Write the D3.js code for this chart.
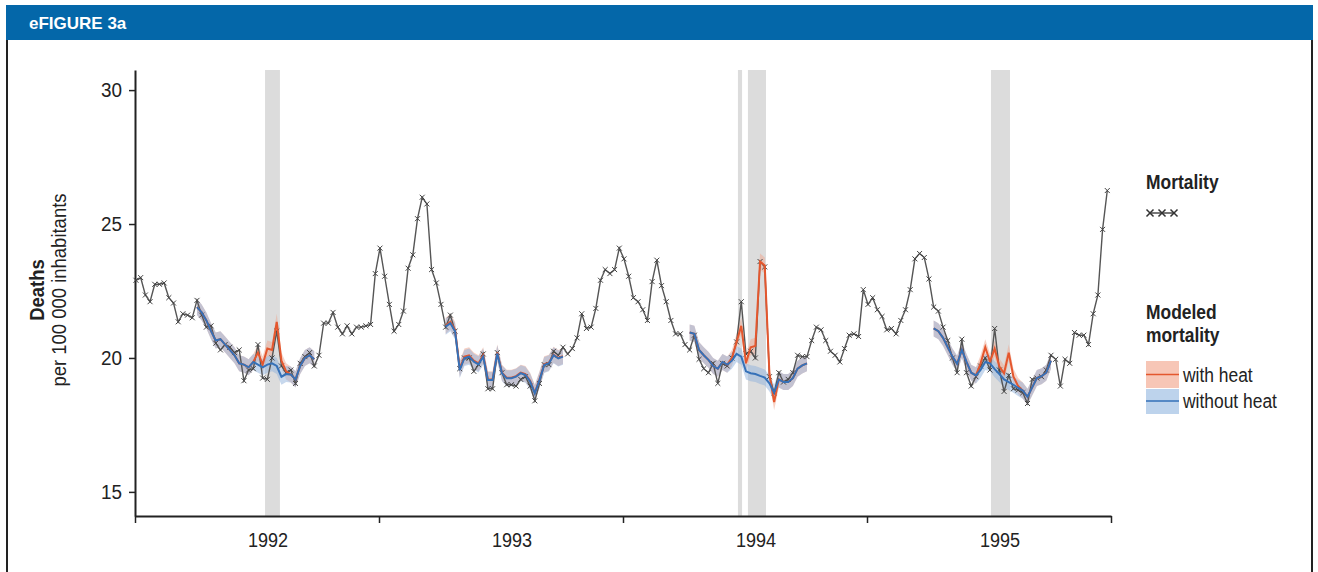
<!DOCTYPE html>
<html>
<head>
<meta charset="utf-8">
<script src="https://cdn.jsdelivr.net/npm/d3@7"></script>
<style>
  body { margin: 0; background: #fff; }
  text { font-family: "Liberation Sans", Arial, sans-serif; fill: #222; }
</style>
</head>
<body>
<div id="chart"></div>
<script>
// Year ticks and labels
const years = [1992, 1993, 1994, 1995];
const yearBounds = [1992, 1993, 1994, 1995, 1996];
const yTicks = [15, 20, 25, 30];

// Weekly mortality, deaths per 100 000 inhabitants, week 0 = first week of 1992
const mortality = [
  22.9, 23.0, 22.35, 22.1, 22.75, 22.75, 22.8, 22.25, 22.05, 21.35,
  21.65, 21.6, 21.5, 22.15, 21.6, 21.15, 21.2, 20.55, 20.3, 20.5,
  20.4, 20.2, 20.3, 19.15, 19.55, 19.6, 20.5, 19.25, 19.2, 20.0,
  21.0, 19.7, 19.45, 19.55, 19.05, 19.8, 20.05, 20.2, 19.7, 20.1,
  21.3, 21.3, 21.7, 21.15, 20.9, 21.2, 20.9, 21.15, 21.15, 21.2,
  21.25, 23.15, 24.1, 23.05, 22.0, 21.0, 21.25, 21.75, 23.35, 23.85,
  25.2, 26.0, 25.75, 23.3, 22.8, 22.0, 21.15, 21.6, 21.0, 19.6,
  20.0, 20.0, 19.5, 19.75, 20.15, 18.85, 18.85, 20.2, 19.45, 19.0,
  19.0, 18.95, 19.2, 19.3, 18.95, 18.4, 19.05, 19.75, 19.75, 20.25,
  20.1, 20.4, 20.15, 20.35, 20.75, 21.65, 21.1, 21.15, 21.85, 22.9,
  23.3, 23.15, 23.3, 24.1, 23.7, 23.05, 22.25, 22.1, 21.8, 21.4,
  22.85, 23.65, 22.7, 22.1, 21.4, 20.9, 20.9, 20.5, 20.3, 20.85,
  19.95, 19.6, 19.45, 19.8, 19.05, 19.8, 19.7, 20.0, 20.6, 22.1,
  20.15, 20.25, 20.0, 23.6, 23.4, 19.3, 18.7, 19.45, 19.1, 19.2,
  19.45, 20.1, 20.05, 20.05, 20.65, 21.15, 21.05, 20.65, 20.25, 20.1,
  19.85, 20.35, 20.85, 20.9, 20.8, 22.55, 22.0, 22.25, 21.8, 21.55,
  21.05, 21.1, 20.9, 21.4, 21.8, 22.55, 23.7, 23.9, 23.75, 22.95,
  21.9, 21.75, 21.15, 20.65, 20.0, 19.45, 20.7, 19.45, 18.95, 19.3,
  19.7, 20.0, 19.55, 21.1, 19.55, 18.75, 19.35, 18.85, 18.8, 18.7,
  18.3, 19.2, 19.25, 19.3, 19.55, 20.1, 19.95, 18.95, 19.95, 19.8,
  20.95, 20.85, 20.85, 20.5, 21.65, 22.35, 24.8, 26.25
];

// Modeled mortality, one summer segment per year (first week index of each segment)
const segmentStarts = [13, 66, 118, 170];
const withoutHeat1992 = [21.9, 21.7, 21.4, 21.0, 20.65, 20.7, 20.5, 20.3, 20.1, 19.8, 19.75, 19.65, 19.85,
  19.75, 19.65, 19.75, 19.8, 19.7, 19.3, 19.4, 19.38, 19.2, 19.7, 20.0, 20.1, 19.95];
const withHeat1992 = [21.9, 21.7, 21.4, 21.0, 20.65, 20.7, 20.5, 20.3, 20.1, 19.8, 19.75, 19.65, 19.85,
  20.2, 19.75, 20.35, 20.3, 21.35, 19.9, 19.5, 19.38, 19.2, 19.7, 20.0, 20.1, 19.95];
const withoutHeat1993 = [21.17, 21.3, 21.0, 19.55, 20.0, 20.05, 19.86, 19.76, 20.05, 19.18, 19.18, 20.17, 19.43,
  19.24, 19.24, 19.3, 19.43, 19.37, 19.12, 18.68, 19.18, 19.74, 19.8, 20.1, 19.98, 20.05];
const withHeat1993 = [21.2, 21.35, 21.05, 19.6, 20.05, 20.1, 19.9, 19.8, 20.1, 19.2, 19.2, 20.2, 19.45,
  19.26, 19.26, 19.32, 19.45, 19.4, 19.15, 18.7, 19.2, 19.76, 19.82, 20.12, 20.0, 20.07];
const withoutHeat1994 = [20.95, 20.9, 20.3, 20.1, 19.93, 19.7, 19.6, 19.85, 19.75, 19.9, 20.15, 20.05, 19.5,
  19.43, 19.4, 19.33, 19.27, 19.05, 18.7, 19.2, 19.1, 19.1, 19.25, 19.6, 19.72, 19.8];
const withHeat1994 = [20.95, 20.9, 20.3, 20.1, 19.93, 19.7, 19.6, 19.85, 19.75, 20.0, 20.6, 21.2, 19.8,
  20.4, 20.45, 23.6, 23.45, 19.4, 18.35, 19.2, 19.1, 19.1, 19.25, 19.6, 19.72, 19.8];
const withoutHeat1995 = [21.1, 21.0, 20.75, 20.4, 20.05, 19.78, 20.3, 19.85, 19.45, 19.35, 19.55, 19.85, 19.8,
  19.58, 19.4, 19.2, 19.1, 19.0, 18.88, 18.78, 18.55, 18.9, 19.25, 19.32, 19.45, 19.9];
const withHeat1995 = [21.1, 21.0, 20.75, 20.4, 20.05, 19.78, 20.3, 19.85, 19.45, 19.35, 19.8, 20.4, 19.86,
  20.35, 19.68, 19.43, 20.2, 19.3, 18.95, 18.78, 18.55, 18.9, 19.25, 19.32, 19.45, 19.9];
const ciHalfWidth = [0.3, 0.3, 0.3, 0.3];

// Heat wave periods (decimal years)
const heatPeriods = [
  [1992.533, 1992.594],
  [1994.471, 1994.488],
  [1994.512, 1994.586],
  [1995.508, 1995.586]
];

const width = 1318, height = 572;
const weekToYear = i => 1992.004 + i / 52;

const svg = d3.select("#chart").append("svg")
  .attr("width", width)
  .attr("height", height);

// narrow text: regular font squeezed horizontally (no condensed face installed)
function addText(parent, x0, y0, str, size, sx, bold, anchor) {
  return parent.append("text")
    .attr("transform", `translate(${x0},${y0}) scale(${sx},1)`)
    .attr("text-anchor", anchor || "start")
    .style("font-size", size + "px")
    .style("font-weight", bold ? "bold" : "normal")
    .text(str);
}

// Frame and header
svg.append("rect").attr("x", 6).attr("y", 5).attr("width", 1307).attr("height", 35).attr("fill", "#0467a9");
svg.append("text").attr("x", 29).attr("y", 29)
  .style("font-weight", "bold").style("font-size", "17px").style("fill", "#fff")
  .text("eFIGURE 3a");
svg.append("line").attr("x1", 7).attr("x2", 7).attr("y1", 40).attr("y2", height).attr("stroke", "#222").attr("stroke-width", 2);
svg.append("line").attr("x1", 1312).attr("x2", 1312).attr("y1", 40).attr("y2", height).attr("stroke", "#222").attr("stroke-width", 2);

const x = d3.scaleLinear().domain([1992, 1996]).range([135, 1111]);
const y = d3.scaleLinear().domain([14.1, 30.75]).range([516, 70]);

// Heat wave bars
svg.append("g").selectAll("rect")
  .data(heatPeriods)
  .enter().append("rect")
  .attr("x", d => x(d[0]))
  .attr("width", d => x(d[1]) - x(d[0]))
  .attr("y", y(30.75))
  .attr("height", y(14.1) - y(30.75))
  .attr("fill", "#dcdcdc");

// Axes
const yAxis = svg.append("g").attr("transform", "translate(135,0)")
  .call(d3.axisLeft(y).tickValues(yTicks).tickSize(6).tickSizeOuter(0));
yAxis.selectAll("text")
  .style("font-size", "21px")
  .attr("transform", "scale(0.9,1)")
  .attr("x", -13 / 0.9);

const xAxis = svg.append("g").attr("transform", "translate(0,516)")
  .call(d3.axisBottom(x).tickValues(yearBounds).tickFormat("").tickSize(7).tickSizeOuter(0));
[yAxis, xAxis].forEach(g => {
  g.select(".domain").attr("stroke", "#222").attr("stroke-width", 2);
  g.selectAll(".tick line").attr("stroke", "#222").attr("stroke-width", 1.5);
});

const yearLabels = svg.append("g");
years.forEach(d => addText(yearLabels, x(d + 0.545), 547, d, 21, 0.86, false, "middle"));

// Y axis title
const yTitle = svg.append("g").attr("transform", "translate(0,290) rotate(-90)");
addText(yTitle, 0, 44, "Deaths", 21, 0.88, true, "middle");
addText(yTitle, 0, 66, "per 100 000 inhabitants", 21, 0.88, false, "middle");

// Modeled bands and lines
const segments = [
  { start: segmentStarts[0], without: withoutHeat1992, withH: withHeat1992, hw: ciHalfWidth[0] },
  { start: segmentStarts[1], without: withoutHeat1993, withH: withHeat1993, hw: ciHalfWidth[1] },
  { start: segmentStarts[2], without: withoutHeat1994, withH: withHeat1994, hw: ciHalfWidth[2] },
  { start: segmentStarts[3], without: withoutHeat1995, withH: withHeat1995, hw: ciHalfWidth[3] }
];

const bandGroup = svg.append("g");

segments.forEach(seg => {
  const toPts = vals => vals.map((v, k) => ({ t: weekToYear(seg.start + k), v }));
  const area = d3.area().x(d => x(d.t)).y0(d => y(d.v - seg.hw)).y1(d => y(d.v + seg.hw));
  bandGroup.append("path").datum(toPts(seg.withH)).attr("d", area)
    .attr("fill", "#f0a58e").attr("opacity", 0.5);
  bandGroup.append("path").datum(toPts(seg.without)).attr("d", area)
    .attr("fill", "#8fb2dc").attr("opacity", 0.5);
  seg.pts = { withH: toPts(seg.withH), without: toPts(seg.without) };
});

// Mortality line
const line = d3.line().x(d => x(d.t)).y(d => y(d.v));
const mortPts = mortality.map((v, i) => ({ t: weekToYear(i), v }));
svg.append("path").datum(mortPts).attr("d", line)
  .attr("fill", "none").attr("stroke", "#555").attr("stroke-width", 1.4);

// Cross markers
const cross = d3.symbol().type(d3.symbolX).size(18);
svg.append("g").selectAll("path")
  .data(mortPts)
  .enter().append("path")
  .attr("d", cross)
  .attr("transform", d => `translate(${x(d.t)},${y(d.v)})`)
  .attr("fill", "none").attr("stroke", "#444").attr("stroke-width", 1);

const modelGroup = svg.append("g");
segments.forEach(seg => {
  modelGroup.append("path").datum(seg.pts.withH).attr("d", line)
    .attr("fill", "none").attr("stroke", "#e4572e").attr("stroke-width", 2);
});
segments.forEach(seg => {
  modelGroup.append("path").datum(seg.pts.without).attr("d", line)
    .attr("fill", "none").attr("stroke", "#3571b8").attr("stroke-width", 2);
});

// Legend
const legend = svg.append("g");
addText(legend, 1146, 189, "Mortality", 21, 0.83, true);
legend.append("line").attr("x1", 1149).attr("x2", 1175).attr("y1", 213).attr("y2", 213).attr("stroke", "#555").attr("stroke-width", 1.6);
legend.selectAll(".lm").data([1150, 1162, 1174]).enter().append("path")
  .attr("d", d3.symbol().type(d3.symbolX).size(34))
  .attr("transform", d => `translate(${d},213)`)
  .attr("fill", "none").attr("stroke", "#333").attr("stroke-width", 1.5);

addText(legend, 1146, 319, "Modeled", 21, 0.83, true);
addText(legend, 1146, 342, "mortality", 21, 0.83, true);

legend.append("rect").attr("x", 1146).attr("y", 361).attr("width", 33).attr("height", 27).attr("fill", "#f7c6b6");
legend.append("line").attr("x1", 1146).attr("x2", 1179).attr("y1", 374.5).attr("y2", 374.5).attr("stroke", "#e4572e").attr("stroke-width", 1.5);
legend.append("rect").attr("x", 1146).attr("y", 389).attr("width", 33).attr("height", 25).attr("fill", "#bdd3ec");
legend.append("line").attr("x1", 1146).attr("x2", 1179).attr("y1", 401).attr("y2", 401).attr("stroke", "#3571b8").attr("stroke-width", 1.5);
addText(legend, 1183, 382, "with heat", 21, 0.83, false);
addText(legend, 1183, 408, "without heat", 21, 0.83, false);
</script>
</body>
</html>
